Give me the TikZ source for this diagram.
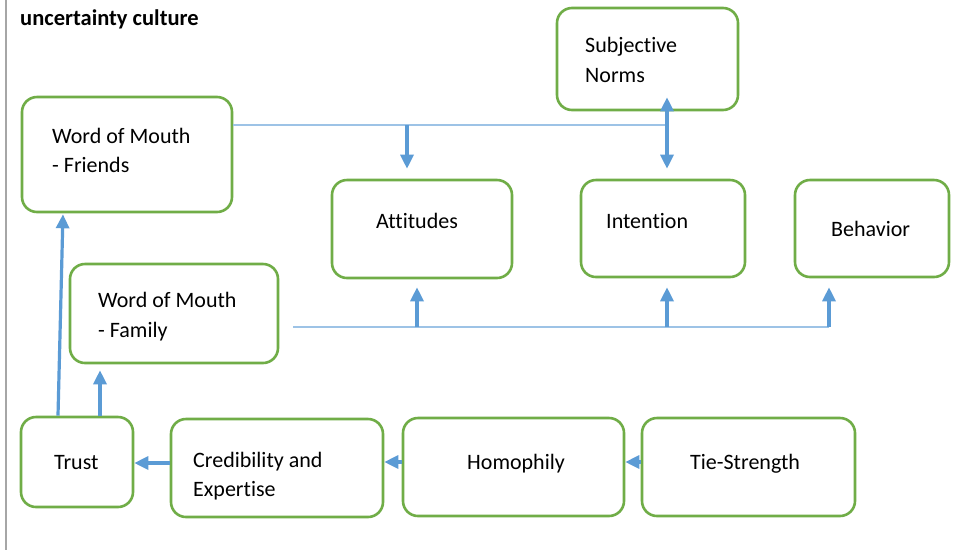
\documentclass[tikz,border=0pt]{standalone}
\usepackage{fontspec}
\setmainfont{Carlito}[Ligatures=NoCommon]
\usetikzlibrary{arrows.meta}
\definecolor{boxgreen}{HTML}{70AD47}
\definecolor{arrblue}{HTML}{5B9BD5}
\definecolor{busblue}{HTML}{9DC3E6}
\definecolor{edgegray}{HTML}{A6A6A6}
\begin{document}
\begin{tikzpicture}[x=1pt,y=-1pt,
  box/.style={draw=boxgreen, line width=2.6pt, rounded corners=15pt, inner sep=0pt, fill=white},
  txt/.style={anchor=base west, inner sep=0pt, font=\fontsize{22}{29}\selectfont},
  arr/.style={draw=arrblue, line width=3.2pt, -{Triangle[width=13pt,length=14pt]}},
  arrboth/.style={draw=arrblue, line width=3.2pt, {Triangle[width=13pt,length=14pt]}-{Triangle[width=13pt,length=14pt]}},
  busline/.style={draw=busblue, line width=1.4pt}]
\useasboundingbox (0,0) rectangle (963,550);
\fill[white] (0,0) rectangle (963,550);
\coordinate (gt) at (6,0);
\coordinate (gb) at (6,550);
\draw[edgegray, line width=2pt] (gt) -- (gb);

\node[txt, font=\fontsize{22.5}{29}\selectfont\bfseries] (title) at (20,25) {uncertainty culture};

% boxes
\node[box, minimum width=181pt, minimum height=102pt] (norms)  at (647.5,59) {};
\node[box, minimum width=210pt, minimum height=115pt] (friends) at (127,154.5) {};
\node[box, minimum width=180pt, minimum height=98pt]  (att)    at (422,229) {};
\node[box, minimum width=164pt, minimum height=97pt]  (int)    at (663,228.5) {};
\node[box, minimum width=154pt, minimum height=97pt]  (beh)    at (872,228.5) {};
\node[box, minimum width=208pt, minimum height=99pt]  (family) at (174,313.5) {};
\node[box, minimum width=112pt, minimum height=90pt]  (trust)  at (77,462) {};
\node[box, minimum width=212pt, minimum height=98pt]  (cred)   at (277,468) {};
\node[box, minimum width=221pt, minimum height=98pt]  (homo)   at (513.5,467) {};
\node[box, minimum width=213pt, minimum height=98pt]  (tie)    at (748.5,467) {};

% texts
\node[txt] (tn1) at (585,52) {Subjective};
\node[txt] (tn2) at (585,82) {Norms};
\node[txt] (tf1) at (52,143) {Word of Mouth};
\node[txt] (tf2) at (52,172) {- Friends};
\node[txt] (ta)  at (376,228) {Attitudes};
\node[txt] (ti)  at (606,228) {Intention};
\node[txt] (tb)  at (831,236) {Behavior};
\node[txt] (tm1) at (98,307) {Word of Mouth};
\node[txt] (tm2) at (98,337) {- Family};
\node[txt] (tt)  at (54,469) {Trust};
\node[txt] (tc1) at (193,467) {Credibility and};
\node[txt] (tc2) at (193,496) {Expertise};
\node[txt] (th)  at (467,469) {Homophily};
\node[txt] (tts) at (690,469) {Tie-Strength};

% helper coordinates
\coordinate (topbus) at (667,125);
\coordinate (xa) at (407,125);
\coordinate (botbus) at (829,327);
\coordinate (xb1) at (417,327);
\coordinate (xb2) at (667,327);
\coordinate (xt1) at (58,0);
\coordinate (xt2) at (63,0);
\coordinate (xt3) at (100,0);
\coordinate (y1) at (0,463);
\coordinate (y2) at (0,462);

% top bus
\draw[busline] (friends.east |- topbus) -- (topbus);
\draw[arr, shorten >=10pt] (xa) -- (att.north -| xa);
\draw[arrboth, shorten <=-14pt, shorten >=10pt] (norms.south -| topbus) -- (int.north -| topbus);

% bottom bus
\draw[busline, shorten <=14pt] (family.east |- botbus) -- (botbus);
\draw[arr, shorten >=8pt] (xb1) -- (att.south -| xb1);
\draw[arr, shorten >=9pt] (xb2) -- (int.south -| xb2);
\draw[arr, shorten >=9pt] (botbus) -- (beh.south -| botbus);

% trust arrows
\draw[arr, shorten >=1pt] (trust.north -| xt1) -- (friends.south -| xt2);
\draw[arr, shorten >=6pt] (trust.north -| xt3) -- (family.south -| xt3);

% bottom chain
\draw[arr] (cred.west |- y1) -- (trust.east |- y1);
\draw[arr] (homo.west |- y2) -- (cred.east |- y2);
\draw[arr] (tie.west |- y2) -- (homo.east |- y2);
\end{tikzpicture}
\end{document}
